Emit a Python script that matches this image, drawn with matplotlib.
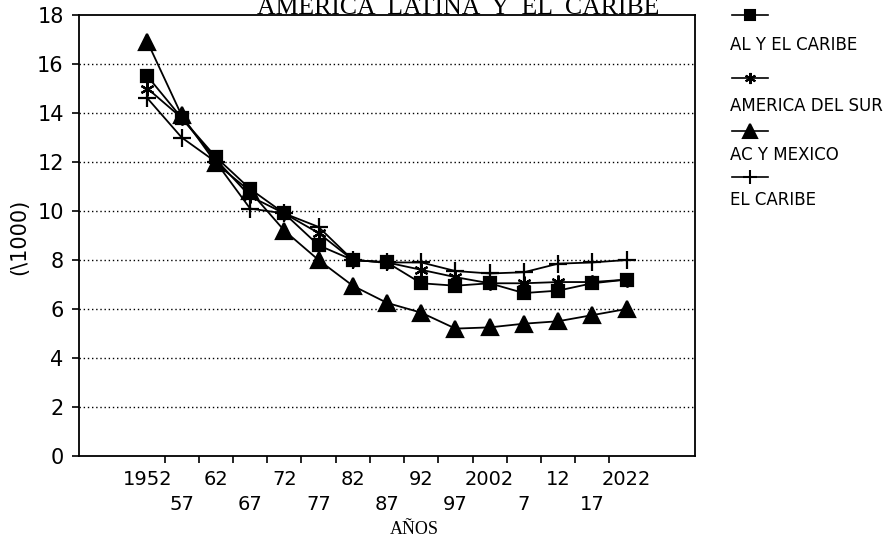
import numpy as np
import matplotlib
matplotlib.use("Agg")
import matplotlib.pyplot as plt
from matplotlib.lines import Line2D

# years (5-year periods) and tick labels, two rows alternating
years = ['1952', '57', '62', '67', '72', '77', '82', '87', '92', '97',
         '2002', '7', '12', '17', '2022']

# values (per 1000)
al_caribe = [15.5, 13.8, 12.2, 10.9, 9.9, 8.6, 8.0, 7.9, 7.05, 6.95,
             7.05, 6.65, 6.75, 7.05, 7.2]
am_sur = [15.0, 13.8, 12.1, 10.6, 9.9, 9.1, 8.0, 7.9, 7.6, 7.3,
          7.05, 7.05, 7.1, 7.1, 7.2]
ac_mexico = [16.9, 13.9, 11.95, 10.8, 9.2, 8.0, 6.95, 6.25, 5.85, 5.2,
             5.25, 5.4, 5.5, 5.75, 6.0]
el_caribe = [14.6, 13.0, 12.0, 10.1, 9.9, 9.35, 8.0, 7.9, 7.9, 7.55,
             7.45, 7.5, 7.85, 7.9, 8.0]

series_names = ['AL Y EL CARIBE', 'AMERICA DEL SUR', 'AC Y MEXICO', 'EL CARIBE']
series_vals = [al_caribe, am_sur, ac_mexico, el_caribe]
markers = ['s', (6, 2, 0), '^', '+']
msizes = [9, 10, 12, 13]

fig = plt.figure(figsize=(8.87, 5.41), dpi=100)
ax = fig.add_axes([79/887, 85/541, 616/887, 441/541])

x = np.arange(len(years))
for vals, m, ms in zip(series_vals, markers, msizes):
    ax.plot(x, vals, color='black', lw=1.3, marker=m, markersize=ms,
            markeredgewidth=1.6, markerfacecolor='black', markeredgecolor='black',
            clip_on=False)

ax.set_xlim(-2, 16)
ax.set_ylim(0, 18)
ax.set_yticks(np.arange(0, 19, 2))
ax.set_yticklabels([str(v) for v in range(0, 19, 2)], fontsize=15)
for v in range(2, 18, 2):
    ax.axhline(v, color='black', lw=1.0, ls=(0, (1, 2)), zorder=0)

# ticks between periods
ax.set_xticks(x[:-1] + 0.5)
ax.set_xticklabels([])
ax.tick_params(axis='x', direction='out', length=5, width=1.2)
ax.tick_params(axis='y', direction='out', length=5, width=1.2, pad=6)
for s in ax.spines.values():
    s.set_linewidth(1.3)

for i, lab in enumerate(years):
    yoff = -0.054 if i % 2 == 0 else -0.111
    ax.text(i, yoff, lab, transform=ax.get_xaxis_transform(), ha='center',
            va='center', fontsize=14)

ax.text(7.8, -0.166, 'AÑOS', transform=ax.get_xaxis_transform(), ha='center',
        va='center', fontsize=13, family='Liberation Serif')

fig.text(19/887, 1 - 237/541, '(\\1000)', rotation=90, ha='center', va='center',
         fontsize=15)

fig.text(458/887, 1 - 14/541, 'AMERICA  LATINA  Y  EL  CARIBE', ha='center',
         va='baseline', fontsize=18.5, family='Liberation Serif')

# legend: marker line above each label
leg_y = [15, 78, 131, 177]
lab_y = [45, 106, 155, 200]
for name, m, ms, ly, ty in zip(series_names, markers, msizes, leg_y, lab_y):
    fig.add_artist(Line2D([732/887, 768/887], [1 - ly/541, 1 - ly/541],
                          color='black', lw=1.2))
    fig.add_artist(Line2D([750/887], [1 - ly/541], color='black', marker=m,
                          markersize=ms * 0.8, markeredgewidth=1.5,
                          markerfacecolor='black'))
    fig.text(730/887, 1 - ty/541, name, ha='left', va='center', fontsize=12)

fig.savefig('out.png', dpi=100)
